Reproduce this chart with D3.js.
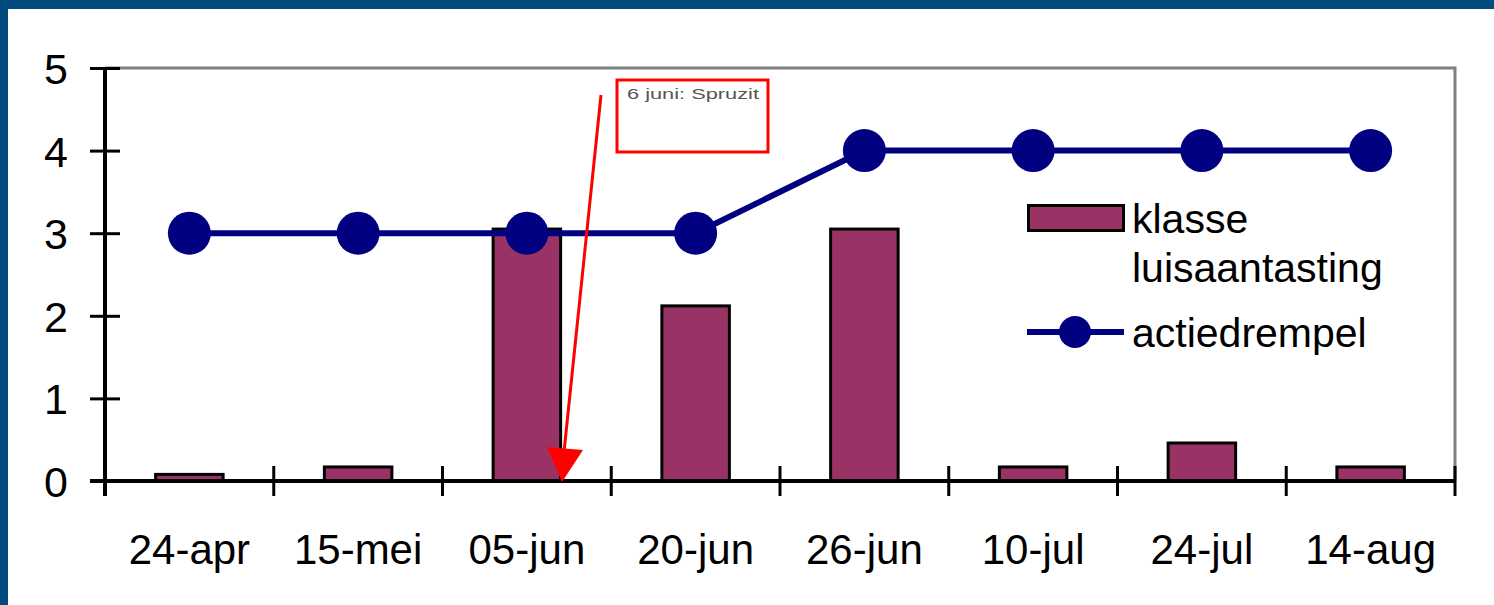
<!DOCTYPE html>
<html>
<head>
<meta charset="utf-8">
<script src="https://cdn.jsdelivr.net/npm/d3@7"></script>
<style>
  html, body { margin: 0; padding: 0; background: #ffffff; }
  svg { display: block; font-family: "Liberation Sans", Arial, sans-serif; }
</style>
</head>
<body>
<svg id="chart" width="1494" height="605"></svg>
<script>
// data
const dates = ["24-apr", "15-mei", "05-jun", "20-jun", "26-jun", "10-jul", "24-jul", "14-aug"];
const luisaantasting = [0.08, 0.17, 3.05, 2.12, 3.05, 0.17, 0.46, 0.17];
const actiedrempel = [3, 3, 3, 3, 4, 4, 4, 4];
const yTicks = [0, 1, 2, 3, 4, 5];
const legendLabels = [["klasse", "luisaantasting"], ["actiedrempel"]];
const noteText = "6 juni: Spruzit";

const barColor = "#993366";
const lineColor = "#000080";

const svg = d3.select("#chart");
const width = 1494, height = 605;
const margin = { top: 68, right: 39, bottom: 124, left: 105 };

//dark blue frame at top and left
svg.append("rect").attr("x", 0).attr("y", 0).attr("width", width).attr("height", 9).attr("fill", "#004c7e");
svg.append("rect").attr("x", 0).attr("y", 0).attr("width", 8).attr("height", height).attr("fill", "#004c7e");

//scales
const xScale = d3.scaleBand()
  .domain(dates)
  .range([margin.left, width - margin.right])
  .padding(0);

const yScale = d3.scaleLinear()
  .domain([0, 5])
  .range([height - margin.bottom, margin.top]);

//plot area border (grey, top and right)
svg.append("path")
  .attr("d", `M${margin.left},${yScale(5)}H${width - margin.right}V${yScale(0)}`)
  .attr("fill", "none")
  .attr("stroke", "#808080")
  .attr("stroke-width", 3);

//bars
const barWidth = xScale.bandwidth() * 0.4;
svg.selectAll(".bar")
  .data(luisaantasting)
  .enter()
  .append("rect")
  .attr("class", "bar")
  .attr("x", (d, i) => xScale(dates[i]) + (xScale.bandwidth() - barWidth) / 2)
  .attr("y", (d) => yScale(d))
  .attr("width", barWidth)
  .attr("height", (d) => yScale(0) - yScale(d))
  .attr("fill", barColor)
  .attr("stroke", "#000")
  .attr("stroke-width", 3);

//axes
const xAxis = d3.axisBottom(xScale).tickSize(0).tickFormat("");
const xAxisG = svg.append("g")
  .attr("transform", `translate(0,${yScale(0)})`)
  .call(xAxis);
xAxisG.select(".domain").attr("stroke", "#000").attr("stroke-width", 4)
  .attr("d", `M${margin.left - 15},0H${width - margin.right}`);

//tick marks between categories, crossing the axis
const xBounds = dates.map((d) => xScale(d)).concat([xScale(dates[dates.length - 1]) + xScale.bandwidth()]);
svg.append("g").selectAll("line")
  .data(xBounds)
  .enter()
  .append("line")
  .attr("x1", (d) => d).attr("x2", (d) => d)
  .attr("y1", yScale(0) - 15).attr("y2", yScale(0) + 15)
  .attr("stroke", "#000").attr("stroke-width", 3);

//category labels
svg.append("g").selectAll("text")
  .data(dates)
  .enter()
  .append("text")
  .attr("x", (d) => xScale(d) + xScale.bandwidth() / 2)
  .attr("y", 564)
  .attr("text-anchor", "middle")
  .attr("font-size", 42)
  .attr("fill", "#000")
  .text((d) => d);

const yAxis = d3.axisLeft(yScale).tickValues(yTicks).tickSize(0).tickFormat(d3.format("d"));
const yAxisG = svg.append("g")
  .attr("transform", `translate(${margin.left},0)`)
  .call(yAxis);
yAxisG.select(".domain").attr("stroke", "#000").attr("stroke-width", 4)
  .attr("d", `M0,${yScale(5)}V${yScale(0) + 15}`);
yAxisG.selectAll(".tick text")
  .attr("x", -37)
  .attr("dy", "0.36em")
  .attr("font-size", 43)
  .attr("font-family", "Liberation Sans, Arial, sans-serif")
  .attr("fill", "#000");
yAxisG.selectAll(".tick")
  .append("line")
  .attr("x1", -15).attr("x2", 15)
  .attr("stroke", "#000").attr("stroke-width", 3);

//threshold line with markers
const line = d3.line()
  .x((d, i) => xScale(dates[i]) + xScale.bandwidth() / 2)
  .y((d) => yScale(d));

svg.append("path")
  .datum(actiedrempel)
  .attr("d", line)
  .attr("fill", "none")
  .attr("stroke", lineColor)
  .attr("stroke-width", 6);

svg.selectAll(".marker")
  .data(actiedrempel)
  .enter()
  .append("circle")
  .attr("class", "marker")
  .attr("cx", (d, i) => xScale(dates[i]) + xScale.bandwidth() / 2)
  .attr("cy", (d) => yScale(d))
  .attr("r", 21.5)
  .attr("fill", lineColor);

//annotation: red box with note and arrow
const note = svg.append("g");
note.append("rect")
  .attr("x", 617).attr("y", 80)
  .attr("width", 151).attr("height", 72)
  .attr("fill", "none")
  .attr("stroke", "#ff0000")
  .attr("stroke-width", 3);
note.append("text")
  .attr("x", 627).attr("y", 99)
  .attr("font-size", 15)
  .attr("fill", "#555")
  .attr("textLength", 132)
  .attr("lengthAdjust", "spacingAndGlyphs")
  .text(noteText);
note.append("line")
  .attr("x1", 601).attr("y1", 95)
  .attr("x2", 564).attr("y2", 452)
  .attr("stroke", "#ff0000")
  .attr("stroke-width", 3);
note.append("path")
  .attr("d", "M547,447L583,450L562,482Z")
  .attr("fill", "#ff0000");

//legend
const legend = svg.append("g").attr("transform", "translate(1027,0)");
legend.append("rect")
  .attr("x", 1.5).attr("y", 205.5)
  .attr("width", 95).attr("height", 25)
  .attr("fill", barColor)
  .attr("stroke", "#000")
  .attr("stroke-width", 3);
legend.append("text")
  .attr("x", 105).attr("y", 233)
  .attr("font-size", 41)
  .attr("fill", "#000")
  .selectAll("tspan")
  .data(legendLabels[0])
  .enter()
  .append("tspan")
  .attr("x", 105)
  .attr("dy", (d, i) => (i === 0 ? 0 : 49))
  .text((d) => d);
legend.append("line")
  .attr("x1", 0).attr("x2", 97)
  .attr("y1", 332).attr("y2", 332)
  .attr("stroke", lineColor)
  .attr("stroke-width", 6);
legend.append("circle")
  .attr("cx", 48).attr("cy", 332).attr("r", 16)
  .attr("fill", lineColor);
legend.append("text")
  .attr("x", 105).attr("y", 347)
  .attr("font-size", 41)
  .attr("fill", "#000")
  .text(legendLabels[1][0]);
</script>
</body>
</html>
